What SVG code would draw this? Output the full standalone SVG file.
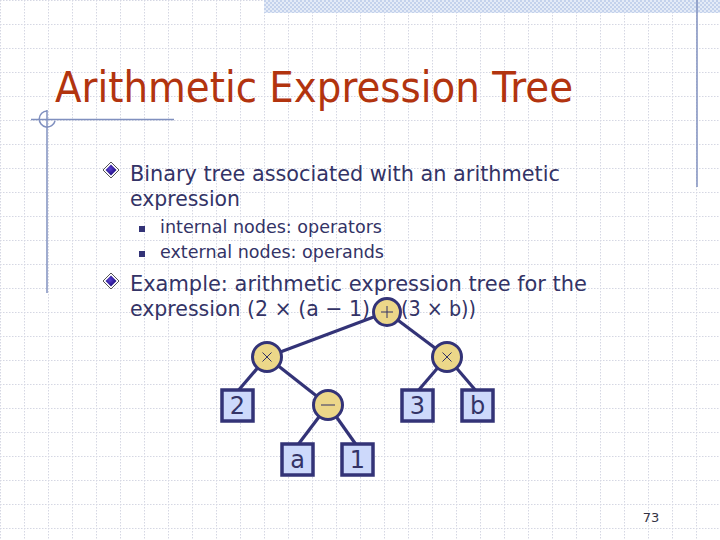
<svg xmlns="http://www.w3.org/2000/svg" width="720" height="540" viewBox="0 0 720 540">
<defs>
<pattern id="grid" width="24" height="24" patternUnits="userSpaceOnUse">
<path d="M0 0.5H24M0.5 0V24" stroke="#d5d7e3" stroke-width="1" stroke-dasharray="1.5 1.5" fill="none"/>
</pattern>
<pattern id="check" width="4" height="4" patternUnits="userSpaceOnUse">
<rect width="4" height="4" fill="#e4ebf7"/>
<rect width="2" height="2" fill="#c4d2ec"/>
<rect x="2" y="2" width="2" height="2" fill="#c4d2ec"/>
</pattern>
<radialGradient id="dia" cx="0.4" cy="0.4" r="0.6">
<stop offset="0" stop-color="#5a3fd0"/>
<stop offset="1" stop-color="#1e0f80"/>
</radialGradient>
<g id="diamond">
<path d="M0 -8L8 0L0 8L-8 0Z" fill="#fff" stroke="#555" stroke-width="1"/>
<path d="M0 -5.5L5.5 0L0 5.5L-5.5 0Z" fill="url(#dia)"/>
</g>
</defs>
<style>
.title{font-family:"DejaVu Sans",Verdana,sans-serif;font-size:42px;fill:#b2340f}
.body{font-family:"DejaVu Sans",Verdana,sans-serif;font-size:22px;fill:#333366}
.sub{font-family:"DejaVu Sans",Verdana,sans-serif;font-size:18px;fill:#333366}
.edge{stroke:#333377;stroke-width:3.2;fill:none}
.op{fill:#ecd789;stroke:#333377;stroke-width:3}
.leaf{fill:#cdd9fb;stroke:#333377;stroke-width:3.5}
.lt{font-family:"DejaVu Sans",Verdana,sans-serif;font-size:24px;fill:#333366;text-anchor:middle}
.sym{stroke:#333366;stroke-width:1;fill:none}
.frame{stroke:#8090bf;stroke-width:1.5;fill:none}
</style>
<rect width="720" height="540" fill="#fff"/>
<rect width="720" height="540" fill="url(#grid)"/>
<rect x="264" y="0" width="456" height="13" fill="url(#check)"/>
<g id="frame">
<line class="frame" x1="697" y1="0" x2="697" y2="187"/>
<line class="frame" x1="31" y1="119.5" x2="174" y2="119.5"/>
<line class="frame" x1="47" y1="110" x2="47" y2="293"/>
<path class="frame" d="M47 111 A8 8 0 1 0 55 121"/>
</g>
<text class="title" x="55" y="102" textLength="518" lengthAdjust="spacingAndGlyphs">Arithmetic Expression Tree</text>
<use href="#diamond" x="111" y="170"/>
<text class="body" x="130" y="181" textLength="430" lengthAdjust="spacingAndGlyphs">Binary tree associated with an arithmetic</text>
<text class="body" x="130" y="206" textLength="110" lengthAdjust="spacingAndGlyphs">expression</text>
<rect x="139" y="226" width="6" height="6" fill="#333377"/>
<text class="sub" x="160" y="233" textLength="222" lengthAdjust="spacingAndGlyphs">internal nodes: operators</text>
<rect x="139" y="251" width="6" height="6" fill="#333377"/>
<text class="sub" x="160" y="258" textLength="224" lengthAdjust="spacingAndGlyphs">external nodes: operands</text>
<use href="#diamond" x="111" y="281"/>
<text class="body" x="130" y="291" textLength="457" lengthAdjust="spacingAndGlyphs">Example: arithmetic expression tree for the</text>
<text class="body" x="130" y="316" textLength="240" lengthAdjust="spacingAndGlyphs">expression (2 × (a − 1)</text>
<text class="body" x="401" y="316" textLength="75" lengthAdjust="spacingAndGlyphs">(3 × b))</text>
<g id="edges">
<line class="edge" x1="387" y1="312" x2="267" y2="357"/>
<line class="edge" x1="387" y1="312" x2="447" y2="357"/>
<line class="edge" x1="267" y1="357" x2="237" y2="392"/>
<line class="edge" x1="267" y1="357" x2="328" y2="405"/>
<line class="edge" x1="328" y1="405" x2="297" y2="446"/>
<line class="edge" x1="328" y1="405" x2="357" y2="446"/>
<line class="edge" x1="447" y1="357" x2="417" y2="392"/>
<line class="edge" x1="447" y1="357" x2="477" y2="392"/>
</g>
<g id="plus">
<circle class="op" cx="387" cy="312" r="13.5"/>
<path class="sym" d="M381 312H393M387 306V318"/>
</g>
<g id="times-left">
<circle class="op" cx="267" cy="357" r="14.5"/>
<path class="sym" d="M262.5 352.5L271.5 361.5M271.5 352.5L262.5 361.5"/>
</g>
<g id="times-right">
<circle class="op" cx="447" cy="357" r="14.5"/>
<path class="sym" d="M442.5 352.5L451.5 361.5M451.5 352.5L442.5 361.5"/>
</g>
<g id="minus">
<circle class="op" cx="328" cy="405" r="14.5"/>
<path class="sym" d="M321 405H335"/>
</g>
<g id="leaf-2">
<rect class="leaf" x="222" y="390" width="31" height="31"/>
<text class="lt" x="237.5" y="414">2</text>
</g>
<g id="leaf-3">
<rect class="leaf" x="402" y="390" width="31" height="31"/>
<text class="lt" x="417.5" y="414">3</text>
</g>
<g id="leaf-b">
<rect class="leaf" x="462" y="390" width="31" height="31"/>
<text class="lt" x="477.5" y="414">b</text>
</g>
<g id="leaf-a">
<rect class="leaf" x="282" y="444" width="31" height="31"/>
<text class="lt" x="297.5" y="468">a</text>
</g>
<g id="leaf-1">
<rect class="leaf" x="342" y="444" width="31" height="31"/>
<text class="lt" x="357.5" y="468">1</text>
</g>
<text x="651" y="522" font-family="'DejaVu Sans',sans-serif" font-size="13" fill="#333344" text-anchor="middle">73</text>
</svg>
